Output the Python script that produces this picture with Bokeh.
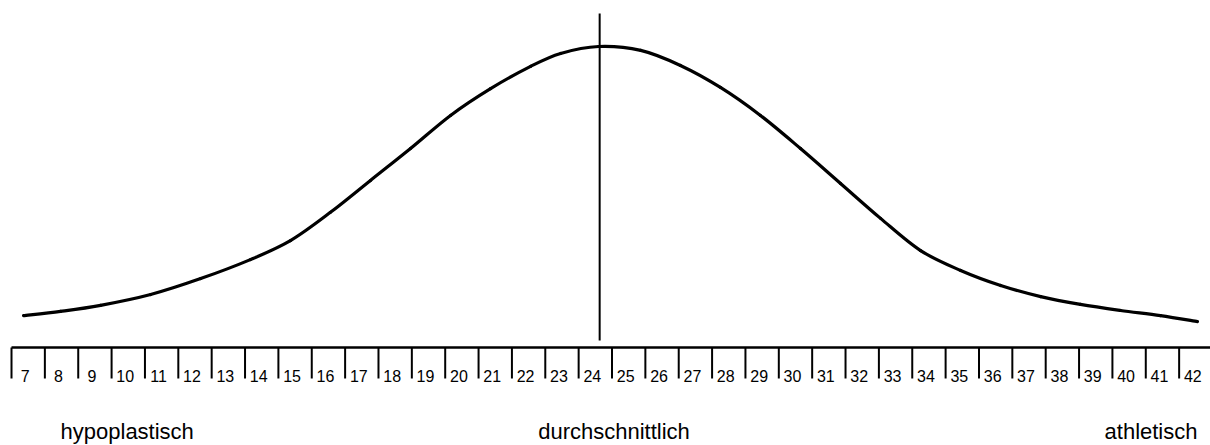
from bokeh.plotting import figure
from bokeh.models import Range1d, ColumnDataSource
from bokeh.core.properties import value
from bokeh.embed import file_html
from bokeh.resources import INLINE

# --- data ---
scale_values = list(range(7, 43))                      # score cells 7..42
curve_x = [6.86, 7.97, 9.17, 10.67, 12.17, 13.66, 14.86, 16.06, 17.26, 18.46,
           19.66, 20.86, 22.06, 22.96, 24.10, 25.36, 26.55, 27.75, 28.95, 30.15,
           31.35, 32.55, 33.75, 34.95, 36.15, 37.35, 38.54, 39.74, 40.94, 42.05]
curve_y = [10.6, 12.0, 14.0, 17.6, 22.9, 29.2, 35.5, 44.9, 55.5, 66.1,
           77.1, 86.0, 93.4, 97.7, 100.0, 98.7, 93.7, 86.4, 77.1, 66.1,
           54.5, 42.9, 32.2, 25.6, 20.6, 16.9, 14.3, 12.3, 10.6, 8.6]
mean_value = 24.13
category_labels = ["hypoplastisch", "durchschnittlich", "athletisch"]

FONT = "Liberation Sans"

p = figure(width=1210, height=445, output_backend="svg", toolbar_location=None,
           x_range=Range1d(6.17, 42.44), y_range=Range1d(-32.56, 115.28),
           min_border=0, min_border_left=0, min_border_right=0,
           min_border_top=0, min_border_bottom=0)
p.axis.visible = False
p.grid.visible = False
p.outline_line_color = None
p.background_fill_color = "white"
p.border_fill_color = "white"

# bell curve, drawn as a smooth Catmull-Rom spline through the read points
n = len(curve_x)
x0s, y0s, x1s, y1s, cx0s, cy0s, cx1s, cy1s = [], [], [], [], [], [], [], []
for i in range(n - 1):
    pxm = curve_x[max(i - 1, 0)]; pym = curve_y[max(i - 1, 0)]
    pxa = curve_x[i]; pya = curve_y[i]
    pxb = curve_x[i + 1]; pyb = curve_y[i + 1]
    pxp = curve_x[min(i + 2, n - 1)]; pyp = curve_y[min(i + 2, n - 1)]
    x0s.append(pxa); y0s.append(pya); x1s.append(pxb); y1s.append(pyb)
    cx0s.append(pxa + (pxb - pxm) / 6.0); cy0s.append(pya + (pyb - pym) / 6.0)
    cx1s.append(pxb - (pxp - pxa) / 6.0); cy1s.append(pyb - (pyp - pya) / 6.0)
p.bezier(x0=x0s, y0=y0s, x1=x1s, y1=y1s, cx0=cx0s, cy0=cy0s, cx1=cx1s, cy1=cy1s,
         line_color="black", line_width=3.2, line_cap="round")

# mean marker line
p.segment(x0=[mean_value], y0=[2.3], x1=[mean_value], y1=[111.0], line_color="black", line_width=2)

# scale box: top line and cell separators
lo = scale_values[0] - 0.5
hi = scale_values[-1] + 0.5
p.segment(x0=[lo], y0=[0], x1=[hi], y1=[0], line_color="black", line_width=2.5)
edges = [v - 0.5 for v in scale_values] + [hi]
p.segment(x0=edges, y0=[0] * len(edges), x1=edges, y1=[-10.3] * len(edges),
          line_color="black", line_width=2)

# cell numbers
src = ColumnDataSource(dict(x=scale_values, y=[-9.6] * len(scale_values),
                            t=[str(v) for v in scale_values]))
p.text(x="x", y="y", text="t", source=src, text_align="center", text_baseline="alphabetic",
       x_offset=-3, text_font=value(FONT), text_font_size="16px", text_color="black")

# category labels
LY = -27.9
p.text(x=[7.97], y=[LY], text=[category_labels[0]], text_align="left",
       text_baseline="alphabetic", text_font=value(FONT), text_font_size="22px", text_color="black")
p.text(x=[24.56], y=[LY], text=[category_labels[1]], text_align="center",
       text_baseline="alphabetic", text_font=value(FONT), text_font_size="22px", text_color="black")
p.text(x=[42.05], y=[LY], text=[category_labels[2]], text_align="right",
       text_baseline="alphabetic", text_font=value(FONT), text_font_size="22px", text_color="black")

open("out.html", "w").write(file_html(p, INLINE))
